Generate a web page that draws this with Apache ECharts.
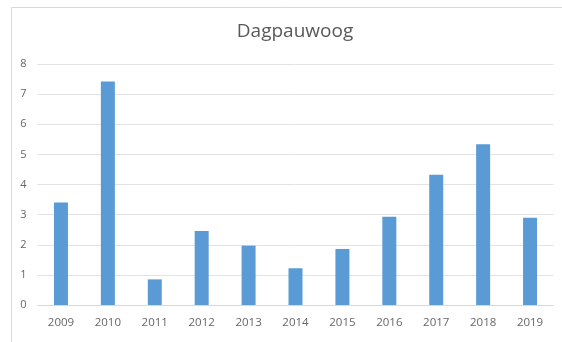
<!DOCTYPE html>
<html>
<head>
<meta charset="utf-8">
<script src="https://cdn.jsdelivr.net/npm/echarts@6/dist/echarts.min.js"></script>
<style>html,body{margin:0;padding:0;background:#fff;}#c{width:562px;height:342px;}</style>
</head>
<body>
<div id="c"></div>
<script>
const title = "Dagpauwoog";
const years = ["2009","2010","2011","2012","2013","2014","2015","2016","2017","2018","2019"];
const values = [3.4, 7.42, 0.85, 2.46, 1.97, 1.22, 1.86, 2.93, 4.32, 5.34, 2.9];
const yTicks = [0, 1, 2, 3, 4, 5, 6, 7, 8];

const chart = echarts.init(document.getElementById('c'), null, {renderer: 'canvas'});
chart.setOption({
  backgroundColor: '#ffffff',
  animation: false,
  graphic: [{
    type: 'rect', left: 9, top: 5,
    shape: {width: 560, height: 340},
    style: {fill: 'none', stroke: '#d9d9d9', lineWidth: 1}
  }],
  title: {
    text: title, left: 290, textAlign: 'center', top: 17,
    textStyle: {fontFamily: 'Open Sans', fontSize: 19, fontWeight: 'normal', color: '#595959'}
  },
  grid: {left: 37.5, right: 8.5, top: 64, bottom: 37, containLabel: false},
  xAxis: {
    type: 'category', data: years,
    axisLine: {lineStyle: {color: '#d9d9d9'}},
    axisTick: {show: false},
    axisLabel: {fontFamily: 'Open Sans', fontSize: 11.5, color: '#666666', margin: 12}
  },
  yAxis: {
    type: 'value', min: yTicks[0], max: yTicks[yTicks.length - 1], interval: 1,
    axisLine: {show: false}, axisTick: {show: false},
    splitLine: {lineStyle: {color: '#e3e3e3'}},
    axisLabel: {fontFamily: 'Open Sans', fontSize: 11, color: '#666666', margin: 11}
  },
  series: [{
    type: 'bar', data: values, barWidth: 14,
    itemStyle: {color: '#5b9bd5'}
  }]
});
</script>
</body>
</html>
